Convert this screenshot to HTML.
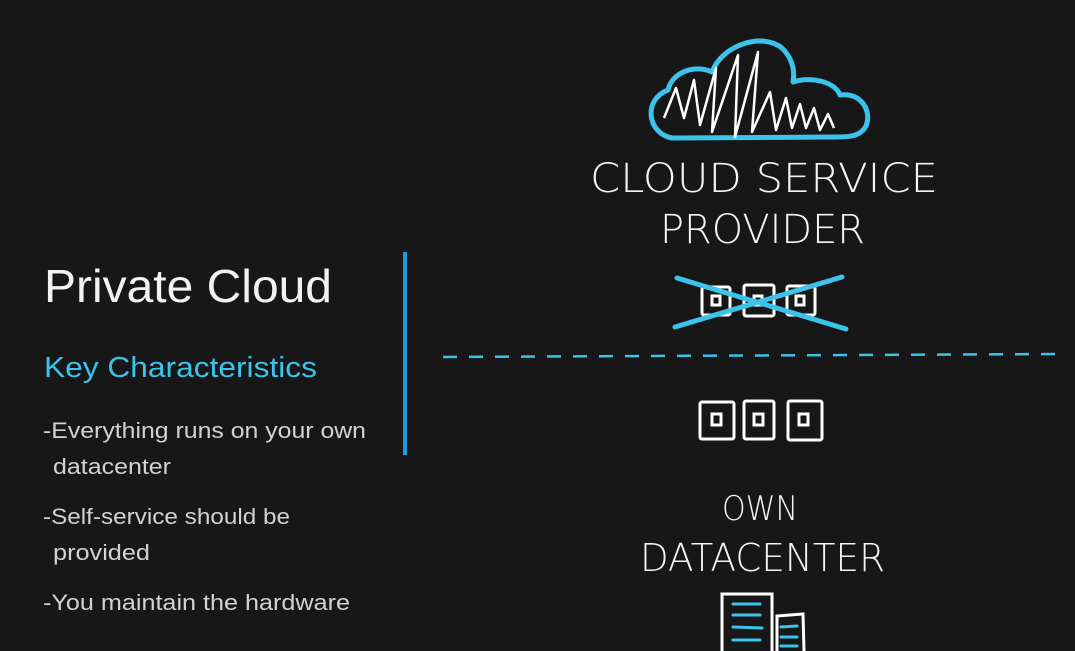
<!DOCTYPE html>
<html><head><meta charset="utf-8"><style>
html,body{margin:0;padding:0;background:#171717;}
svg{display:block}
</style></head><body>
<svg width="1075" height="651" viewBox="0 0 1075 651" xmlns="http://www.w3.org/2000/svg">
<rect width="1075" height="651" fill="#171717"/>
<g font-family="Liberation Sans, sans-serif">
<text x="44" y="302" font-size="46" fill="#f2f2f2" textLength="288" lengthAdjust="spacingAndGlyphs">Private Cloud</text>
<text x="44" y="377" font-size="29" fill="#3cc3ec" textLength="273" lengthAdjust="spacingAndGlyphs">Key Characteristics</text>
<g font-size="22" fill="#d2d2d2">
<text x="43" y="438" textLength="323" lengthAdjust="spacingAndGlyphs">-Everything runs on your own</text>
<text x="53" y="474" textLength="118" lengthAdjust="spacingAndGlyphs">datacenter</text>
<text x="43" y="524" textLength="247" lengthAdjust="spacingAndGlyphs">-Self-service should be</text>
<text x="53" y="560" textLength="97" lengthAdjust="spacingAndGlyphs">provided</text>
<text x="43" y="610" textLength="307" lengthAdjust="spacingAndGlyphs">-You maintain the hardware</text>
</g>
</g>
<rect x="403" y="252" width="4" height="203" fill="#1e9be0"/>
<!-- cloud -->
<path d="M672,138 C648,134 642,100 668,90 C672,72 695,64 712,72 C722,45 762,32 782,48 C792,58 795,70 793,82 C812,76 835,82 840,95 C862,92 872,112 866,126 C860,137 848,137 835,137 Z" fill="none" stroke="#3cc3ec" stroke-width="5" stroke-linejoin="round"/>
<path d="M664,118 L676,88 L684,118 L694,80 L700,125 L716,68 L712,132 L738,55 L735,137 L758,52 L752,132 L770,92 L776,130 L786,98 L792,128 L800,104 L806,128 L814,108 L820,130 L828,114 L834,128" fill="none" stroke="#fff" stroke-width="2.5" stroke-linejoin="round"/>
<g font-family="DejaVu Sans, Liberation Sans, sans-serif" fill="#f4f4f4" font-weight="200">
<text x="590" y="192" font-size="40" textLength="348" lengthAdjust="spacingAndGlyphs">CLOUD SERVICE</text>
<text x="660" y="243" font-size="40" textLength="205" lengthAdjust="spacingAndGlyphs">PROVIDER</text>
<text x="722" y="520" font-size="34" textLength="76" lengthAdjust="spacingAndGlyphs">OWN</text>
<text x="640" y="571" font-size="38" textLength="245" lengthAdjust="spacingAndGlyphs">DATACENTER</text>
</g>
<!-- crossed boxes -->
<g fill="none" stroke="#fff" stroke-width="3">
<rect x="702" y="287" width="28" height="28" rx="2"/><rect x="712" y="296" width="8" height="9"/>
<rect x="744" y="285" width="30" height="31" rx="2"/><rect x="754" y="296" width="8" height="9"/>
<rect x="787" y="286" width="28" height="29" rx="2"/><rect x="796" y="296" width="8" height="9"/>
</g>
<path d="M677,278 L846,329 M675,327 L842,277" stroke="#3cc3ec" stroke-width="5" stroke-linecap="round"/>
<!-- dashed line -->
<line x1="443" y1="357" x2="1062" y2="354" stroke="#3cc3ec" stroke-width="2.5" stroke-dasharray="14,12"/>
<!-- own boxes -->
<g fill="none" stroke="#fff" stroke-width="3">
<rect x="700" y="402" width="34" height="37" rx="2"/><rect x="712" y="414" width="9" height="11"/>
<rect x="744" y="401" width="30" height="38" rx="2"/><rect x="754" y="414" width="9" height="11"/>
<rect x="788" y="401" width="34" height="39" rx="2"/><rect x="799" y="414" width="9" height="11"/>
</g>
<!-- server -->
<g fill="none" stroke="#fff" stroke-width="3">
<path d="M722,651 L722,594 L772,594 L772,651"/>
<path d="M777,651 L777,616 L803,614 L804,651"/>
</g>
<g stroke="#3cc3ec" stroke-width="3" stroke-linecap="round">
<line x1="733" y1="604" x2="760" y2="604"/><line x1="733" y1="615" x2="760" y2="615"/>
<line x1="733" y1="627" x2="762" y2="628"/><line x1="733" y1="640" x2="760" y2="640"/>
<line x1="781" y1="627" x2="797" y2="626"/><line x1="781" y1="637" x2="797" y2="637"/><line x1="781" y1="646" x2="797" y2="646"/>
</g>
</svg>
</body></html>
